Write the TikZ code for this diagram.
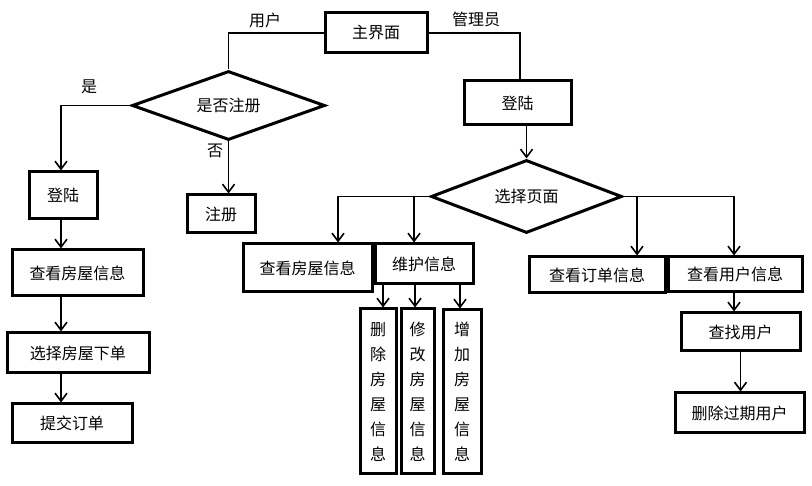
\documentclass[tikz,border=0pt]{standalone}
\usepackage{fontspec}
\newfontfamily\cjk{Noto Sans CJK SC}
\usetikzlibrary{shapes.geometric,arrows.meta}
\tikzset{
  box/.style={draw, line width=3pt, inner sep=0pt, font=\cjk\fontsize{16}{18}\selectfont},
  vbox/.style={box, align=center, font=\cjk\fontsize{16}{25}\selectfont},
  dia/.style={draw, diamond, line width=3pt, inner sep=0pt, aspect=2.8, font=\cjk\fontsize{16}{18}\selectfont},
  conn/.style={line width=1.6pt},
  arr/.style={conn, -{Straight Barb[length=8pt,width=12pt,line width=1.6pt]}},
  lbl/.style={inner sep=0pt, font=\cjk\fontsize{16}{18}\selectfont}
}
\begin{document}
\begin{tikzpicture}[x=1pt,y=-1pt]
\useasboundingbox[fill=white] (0,0) rectangle (812,486);
% nodes
\node[box, minimum width=102pt, minimum height=40pt] (main) at (376,33) {主界面};
\node[dia, minimum width=193pt, minimum height=69pt] (d1) at (228.5,105.5) {是否注册};
\node[box, minimum width=68pt, minimum height=47pt] (loginL) at (63,195.5) {登陆};
\node[box, minimum width=68pt, minimum height=38pt] (reg) at (221,214) {注册};
\node[box, minimum width=131pt, minimum height=46pt] (viewL) at (77.5,273) {查看房屋信息};
\node[box, minimum width=142pt, minimum height=40pt] (choose) at (78,353) {选择房屋下单};
\node[box, minimum width=120pt, minimum height=39pt] (submit) at (72,423.5) {提交订单};
\node[box, minimum width=107pt, minimum height=44pt] (loginR) at (517.5,103) {登陆};
\node[dia, minimum width=191pt, minimum height=73pt] (d2) at (526.5,196.5) {选择页面};
\node[box, minimum width=129pt, minimum height=48pt] (viewM) at (307.5,268) {查看房屋信息};
\node[box, minimum width=98pt, minimum height=40pt] (maint) at (424,264) {维护信息};
\node[vbox, minimum width=36pt, minimum height=165pt] (del) at (378,391.5) {删\\除\\房\\屋\\信\\息};
\node[vbox, minimum width=33pt, minimum height=165pt] (mod) at (417.5,391.5) {修\\改\\房\\屋\\信\\息};
\node[vbox, minimum width=38pt, minimum height=164pt] (add) at (462,392) {增\\加\\房\\屋\\信\\息};
\node[box, minimum width=136pt, minimum height=36pt] (vorder) at (597,275) {查看订单信息};
\node[box, minimum width=134pt, minimum height=35pt] (vuser) at (735,274.5) {查看用户信息};
\node[box, minimum width=119pt, minimum height=38pt] (find) at (740.5,332) {查找用户};
\node[box, minimum width=129pt, minimum height=40pt] (delx) at (739.5,413) {删除过期用户};
% labels
\node[lbl] (lu) at (265,20) {用户};
\node[lbl] (la) at (476,19) {管理员};
\node[lbl] (ly) at (89,87) {是};
\node[lbl] (ln) at (215,151) {否};
% coordinates
\coordinate (b1) at (338,196.5);
\coordinate (b2) at (414,196.5);
\coordinate (b3) at (637,196.5);
% connectors
\draw[conn] (main.west) -| (d1.north);
\draw[conn] (main.east) -| ([xshift=2.5pt]loginR.north);
\draw[arr] (d1.west) -| ([xshift=-2pt]loginL.north);
\draw[arr] (d1.south) -- (d1.south |- reg.north);
\draw[arr] ([xshift=-2pt]loginL.south) -- ([xshift=-2pt]loginL.south |- viewL.north);
\draw[arr] ([xshift=-2pt]viewL.south -| loginL.south) -- ([xshift=-2pt]loginL.south |- choose.north);
\draw[arr] ([xshift=-2pt]choose.south -| loginL.south) -- ([xshift=-2pt]loginL.south |- submit.north);
\draw[arr] (d2.north |- loginR.south) -- (d2.north);
\draw[conn] (d2.west) -- (b1);
\draw[arr] (b1) -- (b1 |- viewM.north);
\draw[arr] (b2) -- (b2 |- maint.north);
\draw[arr] (d2.east) -| ([xshift=-1pt]vuser.north);
\draw[arr] (b3) -- (b3 |- vorder.north);
\draw[arr] ([xshift=5pt]del.north |- maint.south) -- ([xshift=5pt]del.north);
\draw[arr] ([xshift=-2.5pt]mod.north |- maint.south) -- ([xshift=-2.5pt]mod.north);
\draw[arr] ([xshift=-2pt]add.north |- maint.south) -- ([xshift=-2pt]add.north);
\draw[arr] ([xshift=-1pt]vuser.south) -- ([xshift=-1pt]vuser.south |- find.north);
\draw[arr] (find.south) -- (find.south |- delx.north);
\end{tikzpicture}
\end{document}
